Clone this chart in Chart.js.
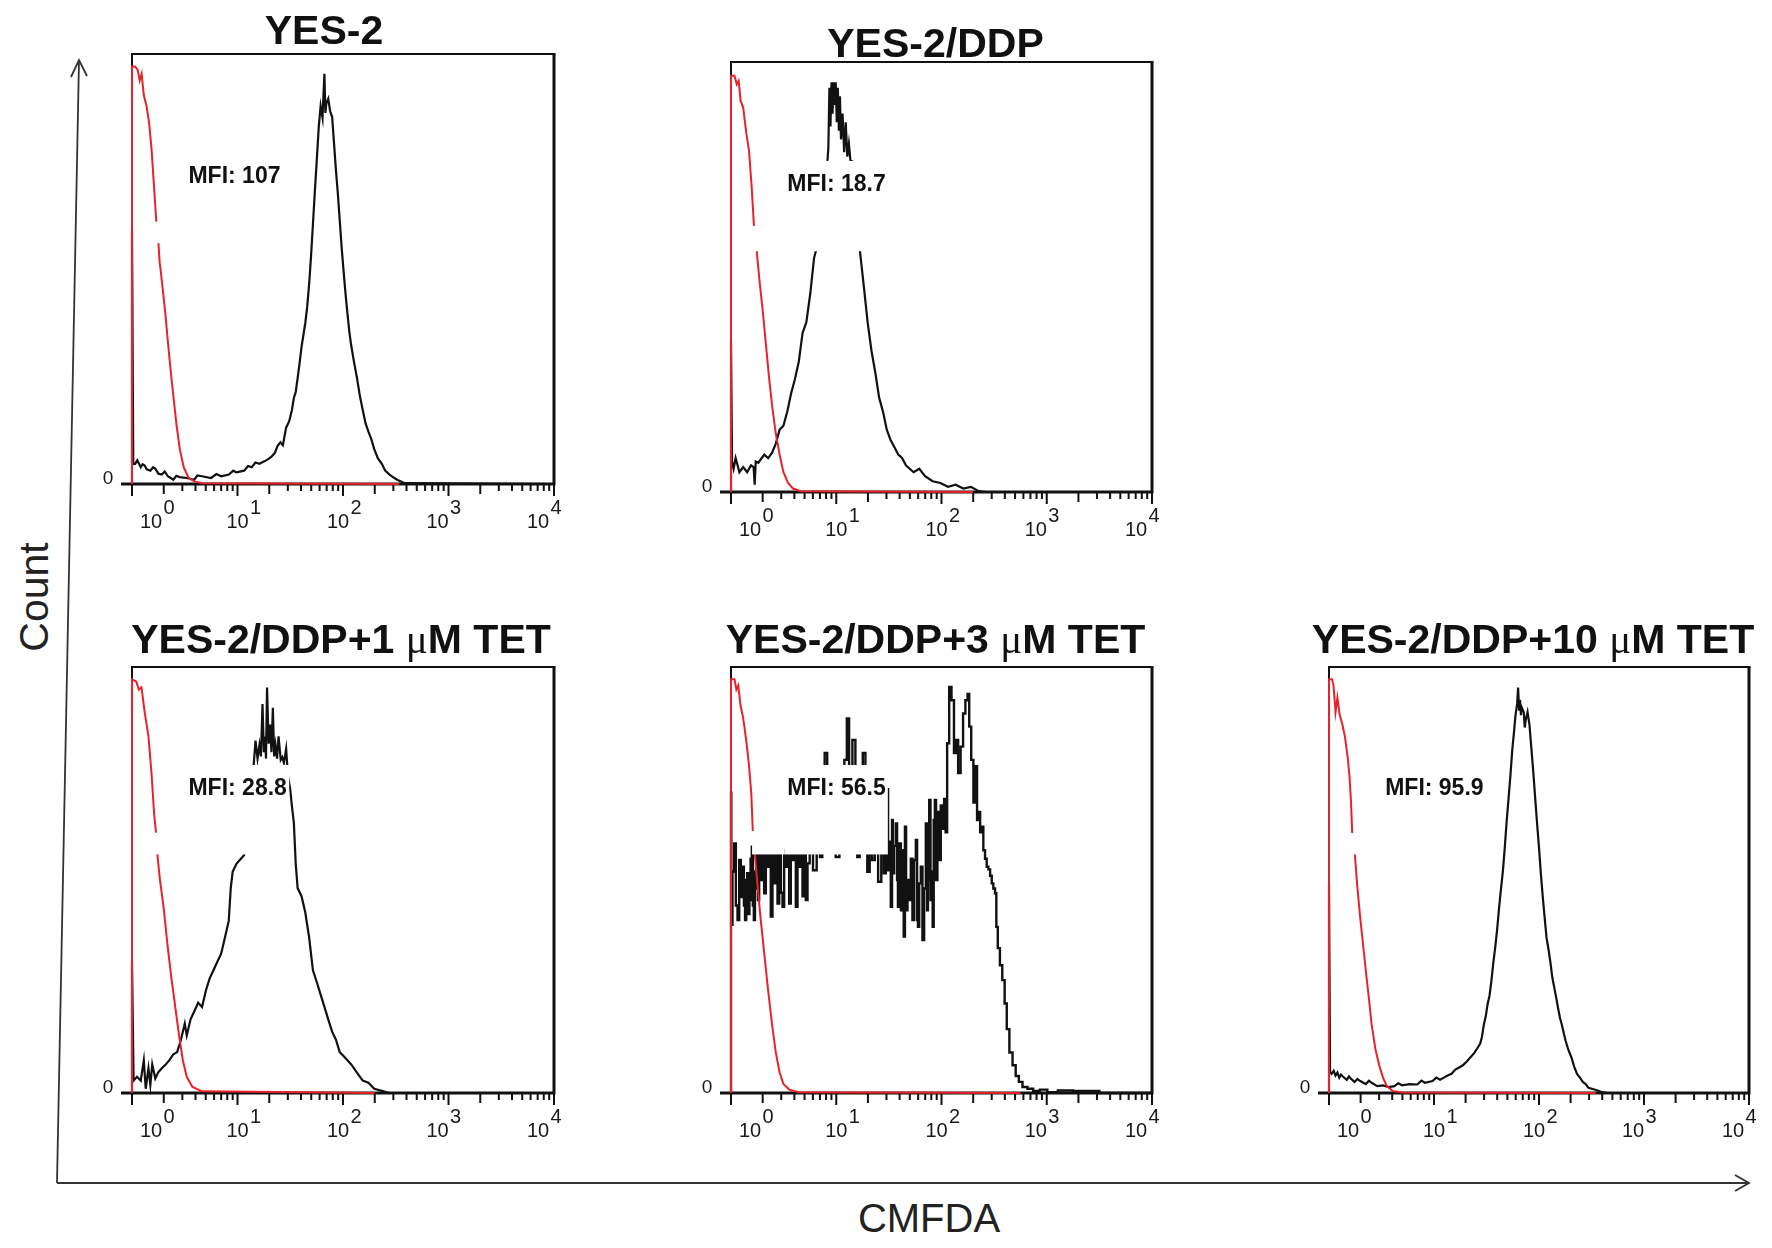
<!DOCTYPE html>
<html>
<head>
<meta charset="utf-8">
<title>CMFDA retention</title>
<script src="https://cdn.jsdelivr.net/npm/chart.js@4.4.1/dist/chart.umd.min.js"></script>
<style>
  html, body { margin: 0; padding: 0; background: #fff; }
  body { width: 1772px; height: 1248px; position: relative; overflow: hidden; }
  canvas.panel { position: absolute; }
  svg { position: absolute; left: 0; top: 0; }
</style>
</head>
<body>
<svg width="1772" height="1248">
  <g stroke="#333" stroke-width="1.8" fill="none">
    <line x1="57" y1="1183" x2="79" y2="60" />
    <polyline points="71,77 79,60 87,76" />
    <line x1="57" y1="1183" x2="1749" y2="1183" />
    <polyline points="1735,1175 1749,1183 1735,1191" />
  </g>
  <g font-family="'Liberation Sans', Arial, sans-serif" fill="#222">
    <text transform="translate(48,597) rotate(-90)" text-anchor="middle" font-size="41">Count</text>
    <text x="929" y="1232" text-anchor="middle" font-size="40">CMFDA</text>
  </g>
</svg>
<script>
// x values are log10(CMFDA fluorescence), y values are % of the panel's max count
const decadeTicks = [0, 1, 2, 3, 4];
const tickExponents = ['0', '1', '2', '3', '4'];
const panelTitles = ['YES-2', 'YES-2/DDP', 'YES-2/DDP+1 \u03bcM TET', 'YES-2/DDP+3 \u03bcM TET', 'YES-2/DDP+10 \u03bcM TET'];
const mfiValues = ['107', '18.7', '28.8', '56.5', '95.9'];

// unstained control (red)
const yes2Ctrl = [[0,0],[0,97.1],[.029,97.1],[.054,96.3],[.073,93.8],[.091,95.4],[.112,90.4],[.138,87.9],[.163,83.8],[.185,78.0],[.203,71.3],[.221,64.6],[.232,60.5],[.24,null],[.25,56.3],[.262,51.5],[.272,49.7],[.294,44.7],[.316,39.7],[.337,33.9],[.363,27.2],[.392,20.5],[.421,13.9],[.453,8.1],[.49,3.9],[.537,1.4],[.591,0.6],[.664,0.2],[2.53,0]];
const ddpCtrl = [[0,0],[0,96.8],[.033,96.8],[.055,94.8],[.073,95.6],[.091,91],[.116,89.4],[.145,83.5],[.171,79.4],[.196,71.1],[.218,61.9],[.23,null],[.244,56.1],[.273,48.6],[.302,42],[.331,34.5],[.36,27],[.389,20.4],[.425,13.7],[.462,8.7],[.498,4.6],[.542,2.1],[.589,0.8],[.662,0.2],[2.3,0]];
const tet1Ctrl = [[0,0],[0,97.1],[.04,96.6],[.065,94.7],[.09,95.2],[.12,89.4],[.156,83.7],[.185,75],[.21,65.4],[.228,61.1],[.233,null],[.239,56.3],[.265,50],[.301,43.3],[.337,34.6],[.374,26.9],[.41,20.2],[.446,13.5],[.482,7.7],[.519,3.8],[.573,1.4],[.664,0.4],[2.3,0]];
const tet3Ctrl = [[0,0],[0,97.1],[.033,97.1],[.051,94.7],[.069,95.7],[.091,90.9],[.116,88],[.145,82.7],[.171,76.9],[.193,70.2],[.207,61.5],[.215,null],[.225,56.7],[.251,49],[.28,41.3],[.316,32.7],[.353,24],[.389,16.3],[.425,9.6],[.462,4.8],[.498,2.1],[.553,0.8],[.644,0.2],[2.75,0]];
const tet10Ctrl = [[0,0],[0,97.1],[.029,97.1],[.043,95.7],[.062,89.4],[.08,92.8],[.101,88.9],[.127,86.5],[.152,83.6],[.178,78.8],[.196,74],[.21,68.2],[.221,60.9],[.23,null],[.246,56.1],[.268,48.9],[.297,41.2],[.322,35.4],[.351,28.6],[.377,22.9],[.406,16.1],[.442,10.3],[.478,6.5],[.514,3.6],[.551,1.6],[.605,0.5],[.696,0.1],[2.54,0]];

// CMFDA stained (black)
const yes2Cmfda = [[0,0],[0,58.8],[.012,4.7],[.03,4.7],[.05,5.5],[.083,3.9],[.1,4.6],[.12,4.3],[.14,3.4],[.174,3.1],[.2,3.9],[.22,3.6],[.25,2.4],[.283,2.2],[.31,2.9],[.34,1.8],[.392,1.0],[.42,1.9],[.45,1.6],[.52,1.4],[.59,1.0],[.62,2.0],[.664,1.8],[.75,1.4],[.8,2.3],[.845,1.8],[.918,2.2],[.96,3.1],[.99,2.7],[1.063,3.1],[1.1,4.2],[1.135,3.9],[1.17,5.0],[1.208,4.7],[1.28,5.6],[1.32,6.3],[1.353,7.2],[1.38,8.9],[1.407,9.7],[1.43,9.0],[1.461,13.1],[1.49,14.6],[1.516,17.2],[1.535,20.1],[1.552,21.4],[1.57,24.6],[1.588,28],[1.607,31.9],[1.625,34.7],[1.643,37.5],[1.661,41.3],[1.68,46.8],[1.697,53],[1.715,60.4],[1.733,68],[1.752,75.5],[1.77,83],[1.788,87.9],[1.806,85.2],[1.815,90.6],[1.824,95.4],[1.833,86.3],[1.842,88.5],[1.86,89.6],[1.879,86.6],[1.897,85.4],[1.915,79.2],[1.933,73],[1.951,67.6],[1.969,61.3],[1.987,55.1],[2.005,49.7],[2.024,44.2],[2.042,39.7],[2.06,35.4],[2.078,32.2],[2.105,28.3],[2.132,24.7],[2.16,20.5],[2.187,17.2],[2.214,14.1],[2.241,12.2],[2.27,10.3],[2.296,8.1],[2.33,6.0],[2.368,4.7],[2.4,3.1],[2.441,2.2],[2.48,1.5],[2.513,1.0],[2.586,0.2],[4,0]];
const ddpCmfda = [[0,0],[0,35.3],[.01,7.1],[.025,5.4],[.044,7.9],[.08,4.6],[.116,5.8],[.153,4.6],[.19,6.2],[.215,5.8],[.225,1.7],[.235,7.1],[.26,6.8],[.28,7.5],[.316,8.7],[.353,7.9],[.389,9.1],[.425,11.2],[.462,14.5],[.498,15.4],[.535,18.7],[.571,22.9],[.607,26.2],[.644,30.3],[.68,37],[.716,39.5],[.753,46.1],[.789,54.4],[.807,56.1],[.844,64.5],[.88,71],[.916,76.9],[.925,80],[.935,94],[.945,85],[.955,95.3],[.965,88],[.975,95.3],[.985,90],[.995,95.3],[1.005,86],[1.015,94],[1.025,84],[1.035,92],[1.045,82],[1.06,88],[1.075,79],[1.09,86],[1.105,78],[1.12,81],[1.135,77],[1.153,76.9],[1.18,67.7],[1.2,61],[1.225,56.1],[1.262,47.8],[1.298,39.5],[1.335,32.8],[1.371,27.8],[1.407,22],[1.444,18.7],[1.48,14.5],[1.516,12.1],[1.553,10.4],[1.589,8.7],[1.625,7.9],[1.662,6.2],[1.698,5.4],[1.735,4.6],[1.789,5.4],[1.844,3.7],[1.916,2.5],[1.989,2.1],[2.062,1.2],[2.135,1.7],[2.207,0.8],[2.28,1.2],[2.353,0.2],[2.425,0],[4,0]];
const tet1Cmfda = [[0,0],[0,30.8],[.015,2.9],[.047,3.8],[.083,2.9],[.112,7.7],[.13,1],[.156,5.8],[.174,1.9],[.192,6.7],[.221,3.4],[.247,4.8],[.283,5.8],[.319,6.7],[.355,7.7],[.392,9.1],[.428,9.6],[.464,12.5],[.5,16.3],[.519,13.5],[.555,17.3],[.591,19.2],[.627,21.2],[.664,20.2],[.7,24],[.736,26.9],[.772,28.8],[.809,30.8],[.845,32.7],[.881,36.5],[.917,40.4],[.936,48.1],[.954,51.9],[.99,53.8],[1.026,54.8],[1.062,55.8],[1.1,61.5],[1.13,70],[1.153,76.9],[1.171,82.7],[1.19,78.5],[1.208,81.7],[1.222,79],[1.237,91.3],[1.25,80],[1.262,83.7],[1.27,78.5],[1.28,95.2],[1.295,82],[1.309,86.5],[1.322,80],[1.335,90.4],[1.348,79],[1.36,81.7],[1.375,78.5],[1.389,83.7],[1.41,78.2],[1.425,78.8],[1.44,77.5],[1.461,80.8],[1.48,74],[1.498,71.6],[1.516,67.3],[1.534,63.5],[1.552,53.8],[1.57,48.1],[1.607,46.2],[1.643,42.3],[1.679,36.5],[1.715,28.8],[1.752,26],[1.788,23.1],[1.824,20.2],[1.86,17.3],[1.897,14.4],[1.933,12.5],[1.969,9.6],[2.005,8.7],[2.042,7.7],[2.078,6.7],[2.132,4.8],[2.187,2.9],[2.241,2.4],[2.296,1],[2.368,0.5],[2.44,0],[4,0]];
const tet3Cmfda = [[0,0],[0,70.5],[.006,39.5],[.022,52],[.038,58.6],[.054,44],[.07,40.6],[.086,54.7],[.101,46],[.117,53.1],[.128,44],[.139,40.6],[.15,50],[.158,51.6],[.17,42],[.18,45.3],[.192,55],[.203,57.8],[.212,44],[.222,40.6],[.233,52],[.244,56.3],[.252,48],[.26,45.3],[.275,57],[.291,50],[.307,58],[.323,46.9],[.339,57],[.355,53.1],[.37,58],[.386,41.4],[.402,57],[.418,49.2],[.434,58],[.45,44.5],[.466,57],[.482,47],[.497,43.7],[.513,57],[.529,53.1],[.545,58],[.56,44.5],[.576,57],[.592,54.7],[.608,58],[.624,43.7],[.64,57],[.656,53.1],[.672,58],[.687,46.2],[.703,57],[.719,45.3],[.735,53.9],[.76,58],[.798,52.3],[.83,60],[.861,55.4],[.874,64.3],[.906,79.8],[.922,68.9],[.969,61.2],[1.02,55.4],[1.04,62.7],[1.064,76.7],[1.09,78.2],[1.111,87.9],[1.133,70.5],[1.174,82.9],[1.19,68.9],[1.21,55.4],[1.235,58.1],[1.269,79.8],[1.285,60],[1.305,51.9],[1.33,62.7],[1.352,54.7],[1.38,60],[1.416,49.6],[1.44,65.8],[1.463,51.6],[1.478,70.5],[1.49,71.3],[1.495,52.3],[1.51,59],[1.526,43.7],[1.534,64.1],[1.542,51.6],[1.558,58],[1.574,63.3],[1.582,50],[1.59,43.7],[1.606,58.6],[1.622,42.9],[1.635,57],[1.647,36.7],[1.658,62.5],[1.669,42.9],[1.685,50],[1.701,45.3],[1.716,55],[1.732,40.6],[1.748,54.7],[1.764,59.4],[1.772,40.6],[1.78,39],[1.796,49.2],[1.811,53.1],[1.827,35.9],[1.843,48],[1.859,63.3],[1.867,42.9],[1.875,50],[1.891,68.8],[1.9,45.3],[1.91,52],[1.922,39],[1.93,64.1],[1.944,68.8],[1.952,50],[1.97,66],[1.985,54.7],[2.001,67.5],[2.017,62],[2.033,69],[2.045,61.2],[2.062,82.1],[2.084,95.3],[2.106,92.2],[2.131,79.8],[2.147,82.9],[2.169,75.1],[2.194,81.3],[2.216,89.1],[2.238,92.2],[2.257,93.7],[2.27,86],[2.295,78.2],[2.311,68.2],[2.333,76.7],[2.343,64.1],[2.36,66],[2.374,61.2],[2.39,62.5],[2.405,57],[2.422,55],[2.437,53.1],[2.454,52.5],[2.47,51],[2.485,49.2],[2.5,48],[2.517,46.9],[2.525,39],[2.545,34],[2.565,30],[2.59,26.5],[2.61,21],[2.63,15],[2.66,9.5],[2.69,6.5],[2.72,4],[2.75,2.6],[2.789,1.4],[2.844,1],[2.898,0.5],[2.971,0.8],[3.04,0.2],[3.17,0.6],[3.33,0.5],[3.48,0.5],[3.52,0],[4,0]];
const tet10Cmfda = [[0,0],[0,48.9],[.01,5],[.025,4.5],[.045,5.2],[.062,4.1],[.08,4.8],[.098,3.6],[.115,4.3],[.134,3.8],[.17,3.1],[.19,3.9],[.207,3.4],[.243,2.6],[.27,3.3],[.297,2.8],[.351,2.1],[.38,2.9],[.406,2.4],[.46,1.6],[.514,1.8],[.569,1.4],[.623,1.6],[.66,2.3],[.696,1.8],[.768,2.1],[.841,2],[.88,2.9],[.913,2.4],[.986,2.8],[1.022,3.6],[1.058,3.1],[1.094,3.6],[1.13,4.1],[1.167,4.5],[1.203,5.5],[1.239,6],[1.275,6.5],[1.312,7.4],[1.348,8.4],[1.384,9.4],[1.42,10.8],[1.44,11.6],[1.457,13.2],[1.475,16.1],[1.493,18],[1.51,20.8],[1.529,22.9],[1.547,26.4],[1.565,30.6],[1.583,34.2],[1.601,38.3],[1.62,43.5],[1.638,47.9],[1.656,52.1],[1.674,57.6],[1.692,63.8],[1.71,69.1],[1.728,74.6],[1.746,80.7],[1.761,84.5],[1.775,88.4],[1.792,91.4],[1.801,95.2],[1.81,90],[1.819,92.3],[1.828,88.7],[1.837,90.4],[1.855,89.4],[1.864,85.8],[1.873,87.5],[1.891,89.4],[1.909,86.5],[1.928,80.7],[1.946,75.2],[1.964,69.1],[1.982,63.2],[2,57.6],[2.018,51.4],[2.036,46],[2.054,41.1],[2.072,36.4],[2.09,33.8],[2.109,30.6],[2.127,27.1],[2.145,24.8],[2.163,22.5],[2.181,20],[2.2,17.6],[2.217,16.1],[2.236,14.0],[2.254,12.2],[2.28,10.1],[2.308,8.4],[2.335,6.2],[2.362,4.5],[2.39,3.6],[2.417,2.6],[2.444,2.1],[2.471,1.2],[2.543,0.7],[2.598,0.2],[2.652,0],[4,0]];

const FONT = '"Liberation Sans", Arial, sans-serif';
const GREEK = '"Liberation Serif", "DejaVu Serif", serif';
const RED = '#e8222a';
const INK = '#111';
const PAD = { left: 50, top: 52, right: 16, bottom: 60 };

// pixel boxes of the five plot frames, and title nudges
const panels = [
  { box: [132, 54, 554, 484], titleDx: -19, titleDy: -10, ctrl: yes2Ctrl, cmfda: yes2Cmfda, stepped: false },
  { box: [731, 62, 1152, 492], titleDx: -6, titleDy: -5, ctrl: ddpCtrl, cmfda: ddpCmfda, stepped: false },
  { box: [132, 667, 554, 1093], titleDx: -2, titleDy: -14, ctrl: tet1Ctrl, cmfda: tet1Cmfda, stepped: false },
  { box: [731, 667, 1152, 1093], titleDx: -6, titleDy: -14, ctrl: tet3Ctrl, cmfda: tet3Cmfda, stepped: 'middle' },
  { box: [1329, 667, 1749, 1093], titleDx: -6, titleDy: -14, ctrl: tet10Ctrl, cmfda: tet10Cmfda, stepped: false }
];

// white label plates (in data units) that hide whatever curve runs behind them
const plates = [
  { x0: 0.51, x1: 1.49, y0: 56, y1: 77 },  // MFI label
  { x0: 0.20, x1: 0.51, y0: 56, y1: 61 }   // marker label
];
const mfiAnchor = { x: 0.535, y: 71.5 };

const labelShift = [19, 0, -5, -11, -16];   // decade labels sit a bit off their ticks
const minorMultipliers = [2, 3, 4, 5, 6, 7, 8, 9];

function drawTitle(ctx, text, cx, baseY) {
  // bold Arial everywhere, except the Greek mu which is set in a plain serif
  const segs = [];
  text.split('\u03bc').forEach((s, i) => {
    if (i > 0) segs.push({ t: '\u03bc', f: `41px ${GREEK}` });
    if (s) segs.push({ t: s, f: `bold 41px ${FONT}` });
  });
  let total = 0;
  segs.forEach(s => { ctx.font = s.f; s.w = ctx.measureText(s.t).width; total += s.w; });
  let xx = cx - total / 2;
  ctx.textAlign = 'left';
  ctx.textBaseline = 'alphabetic';
  segs.forEach(s => { ctx.font = s.f; ctx.fillText(s.t, xx, baseY); xx += s.w; });
}

const facsFrame = {
  id: 'facsFrame',
  beforeDatasetsDraw(chart) {
    const { ctx, chartArea: a, scales: { x } } = chart;
    ctx.save();
    ctx.strokeStyle = INK;
    ctx.lineCap = 'butt';
    // frame
    ctx.lineWidth = 2;
    ctx.beginPath();
    ctx.moveTo(a.left, a.bottom);
    ctx.lineTo(a.left, a.top);
    ctx.lineTo(a.right + 1.5, a.top);
    ctx.stroke();
    ctx.lineWidth = 3;
    ctx.beginPath();
    ctx.moveTo(a.right, a.top);
    ctx.lineTo(a.right, a.bottom);
    ctx.moveTo(a.left - 11, a.bottom);
    ctx.lineTo(a.right + 1.5, a.bottom);
    ctx.stroke();
    // log ticks
    ctx.lineWidth = 2;
    ctx.beginPath();
    decadeTicks.forEach((d, i) => {
      const px = x.getPixelForValue(d);
      ctx.moveTo(px, a.bottom);
      ctx.lineTo(px, a.bottom + 12);
      if (i < decadeTicks.length - 1) {
        minorMultipliers.forEach(k => {
          const mx = x.getPixelForValue(d + Math.log10(k));
          ctx.moveTo(mx, a.bottom);
          ctx.lineTo(mx, a.bottom + (k === 2 ? 10 : 7));
        });
      }
    });
    ctx.stroke();
    ctx.restore();
  },
  afterDatasetsDraw(chart, args, opts) {
    const { ctx, scales: { x, y } } = chart;
    ctx.save();
    ctx.fillStyle = '#fff';
    plates.forEach(p => {
      const px0 = x.getPixelForValue(p.x0), px1 = x.getPixelForValue(p.x1);
      const py0 = y.getPixelForValue(p.y1), py1 = y.getPixelForValue(p.y0);
      ctx.fillRect(px0, py0, px1 - px0, py1 - py0);
    });
    ctx.fillStyle = INK;
    ctx.font = `bold 23px ${FONT}`;
    ctx.textAlign = 'left';
    ctx.textBaseline = 'middle';
    ctx.fillText('MFI: ' + opts.mfi, x.getPixelForValue(mfiAnchor.x), y.getPixelForValue(mfiAnchor.y));
    ctx.restore();
  },
  afterDraw(chart, args, opts) {
    const { ctx, chartArea: a, scales: { x } } = chart;
    ctx.save();
    ctx.fillStyle = '#1a1a1a';
    ctx.font = `20px ${FONT}`;
    ctx.textAlign = 'center';
    ctx.textBaseline = 'middle';
    decadeTicks.forEach((d, i) => {
      const px = x.getPixelForValue(d) + labelShift[i];
      ctx.fillText('10', px, a.bottom + 38);
      ctx.fillText(tickExponents[i], px + 18, a.bottom + 24);
    });
    ctx.font = `19px ${FONT}`;
    ctx.fillText('0', a.left - 24, a.bottom - 5);
    ctx.fillStyle = INK;
    drawTitle(ctx, opts.title, (a.left + a.right) / 2 + opts.titleDx, a.top + opts.titleDy);
    ctx.restore();
  }
};

const toPoints = pairs => pairs.map(([px, py]) => ({ x: px, y: py }));

panels.forEach((p, i) => {
  const [l, t, r, b] = p.box;
  const canvas = document.createElement('canvas');
  canvas.className = 'panel';
  canvas.width = r - l + PAD.left + PAD.right;
  canvas.height = b - t + PAD.top + PAD.bottom;
  canvas.style.left = (l - PAD.left) + 'px';
  canvas.style.top = (t - PAD.top) + 'px';
  document.body.appendChild(canvas);

  new Chart(canvas.getContext('2d'), {
    type: 'line',
    data: {
      datasets: [
        {
          label: 'Unstained',
          data: toPoints(p.ctrl),
          borderColor: RED,
          borderWidth: 2,
          spanGaps: false,
          clip: false
        },
        {
          label: 'CMFDA',
          data: toPoints(p.cmfda),
          borderColor: INK,
          borderWidth: p.stepped ? 2.4 : 2.2,
          stepped: p.stepped,
          clip: false
        }
      ]
    },
    options: {
      responsive: false,
      animation: false,
      devicePixelRatio: 1,
      layout: { padding: PAD },
      elements: {
        point: { radius: 0, hoverRadius: 0 },
        line: { tension: 0, fill: false }
      },
      scales: {
        x: { type: 'linear', display: false, min: 0, max: 4 },
        y: { type: 'linear', display: false, min: 0, max: 100 }
      },
      plugins: {
        legend: { display: false },
        tooltip: { enabled: false },
        facsFrame: { title: panelTitles[i], mfi: mfiValues[i], titleDx: p.titleDx, titleDy: p.titleDy }
      }
    },
    plugins: [facsFrame]
  });
});
</script>
</body>
</html>
